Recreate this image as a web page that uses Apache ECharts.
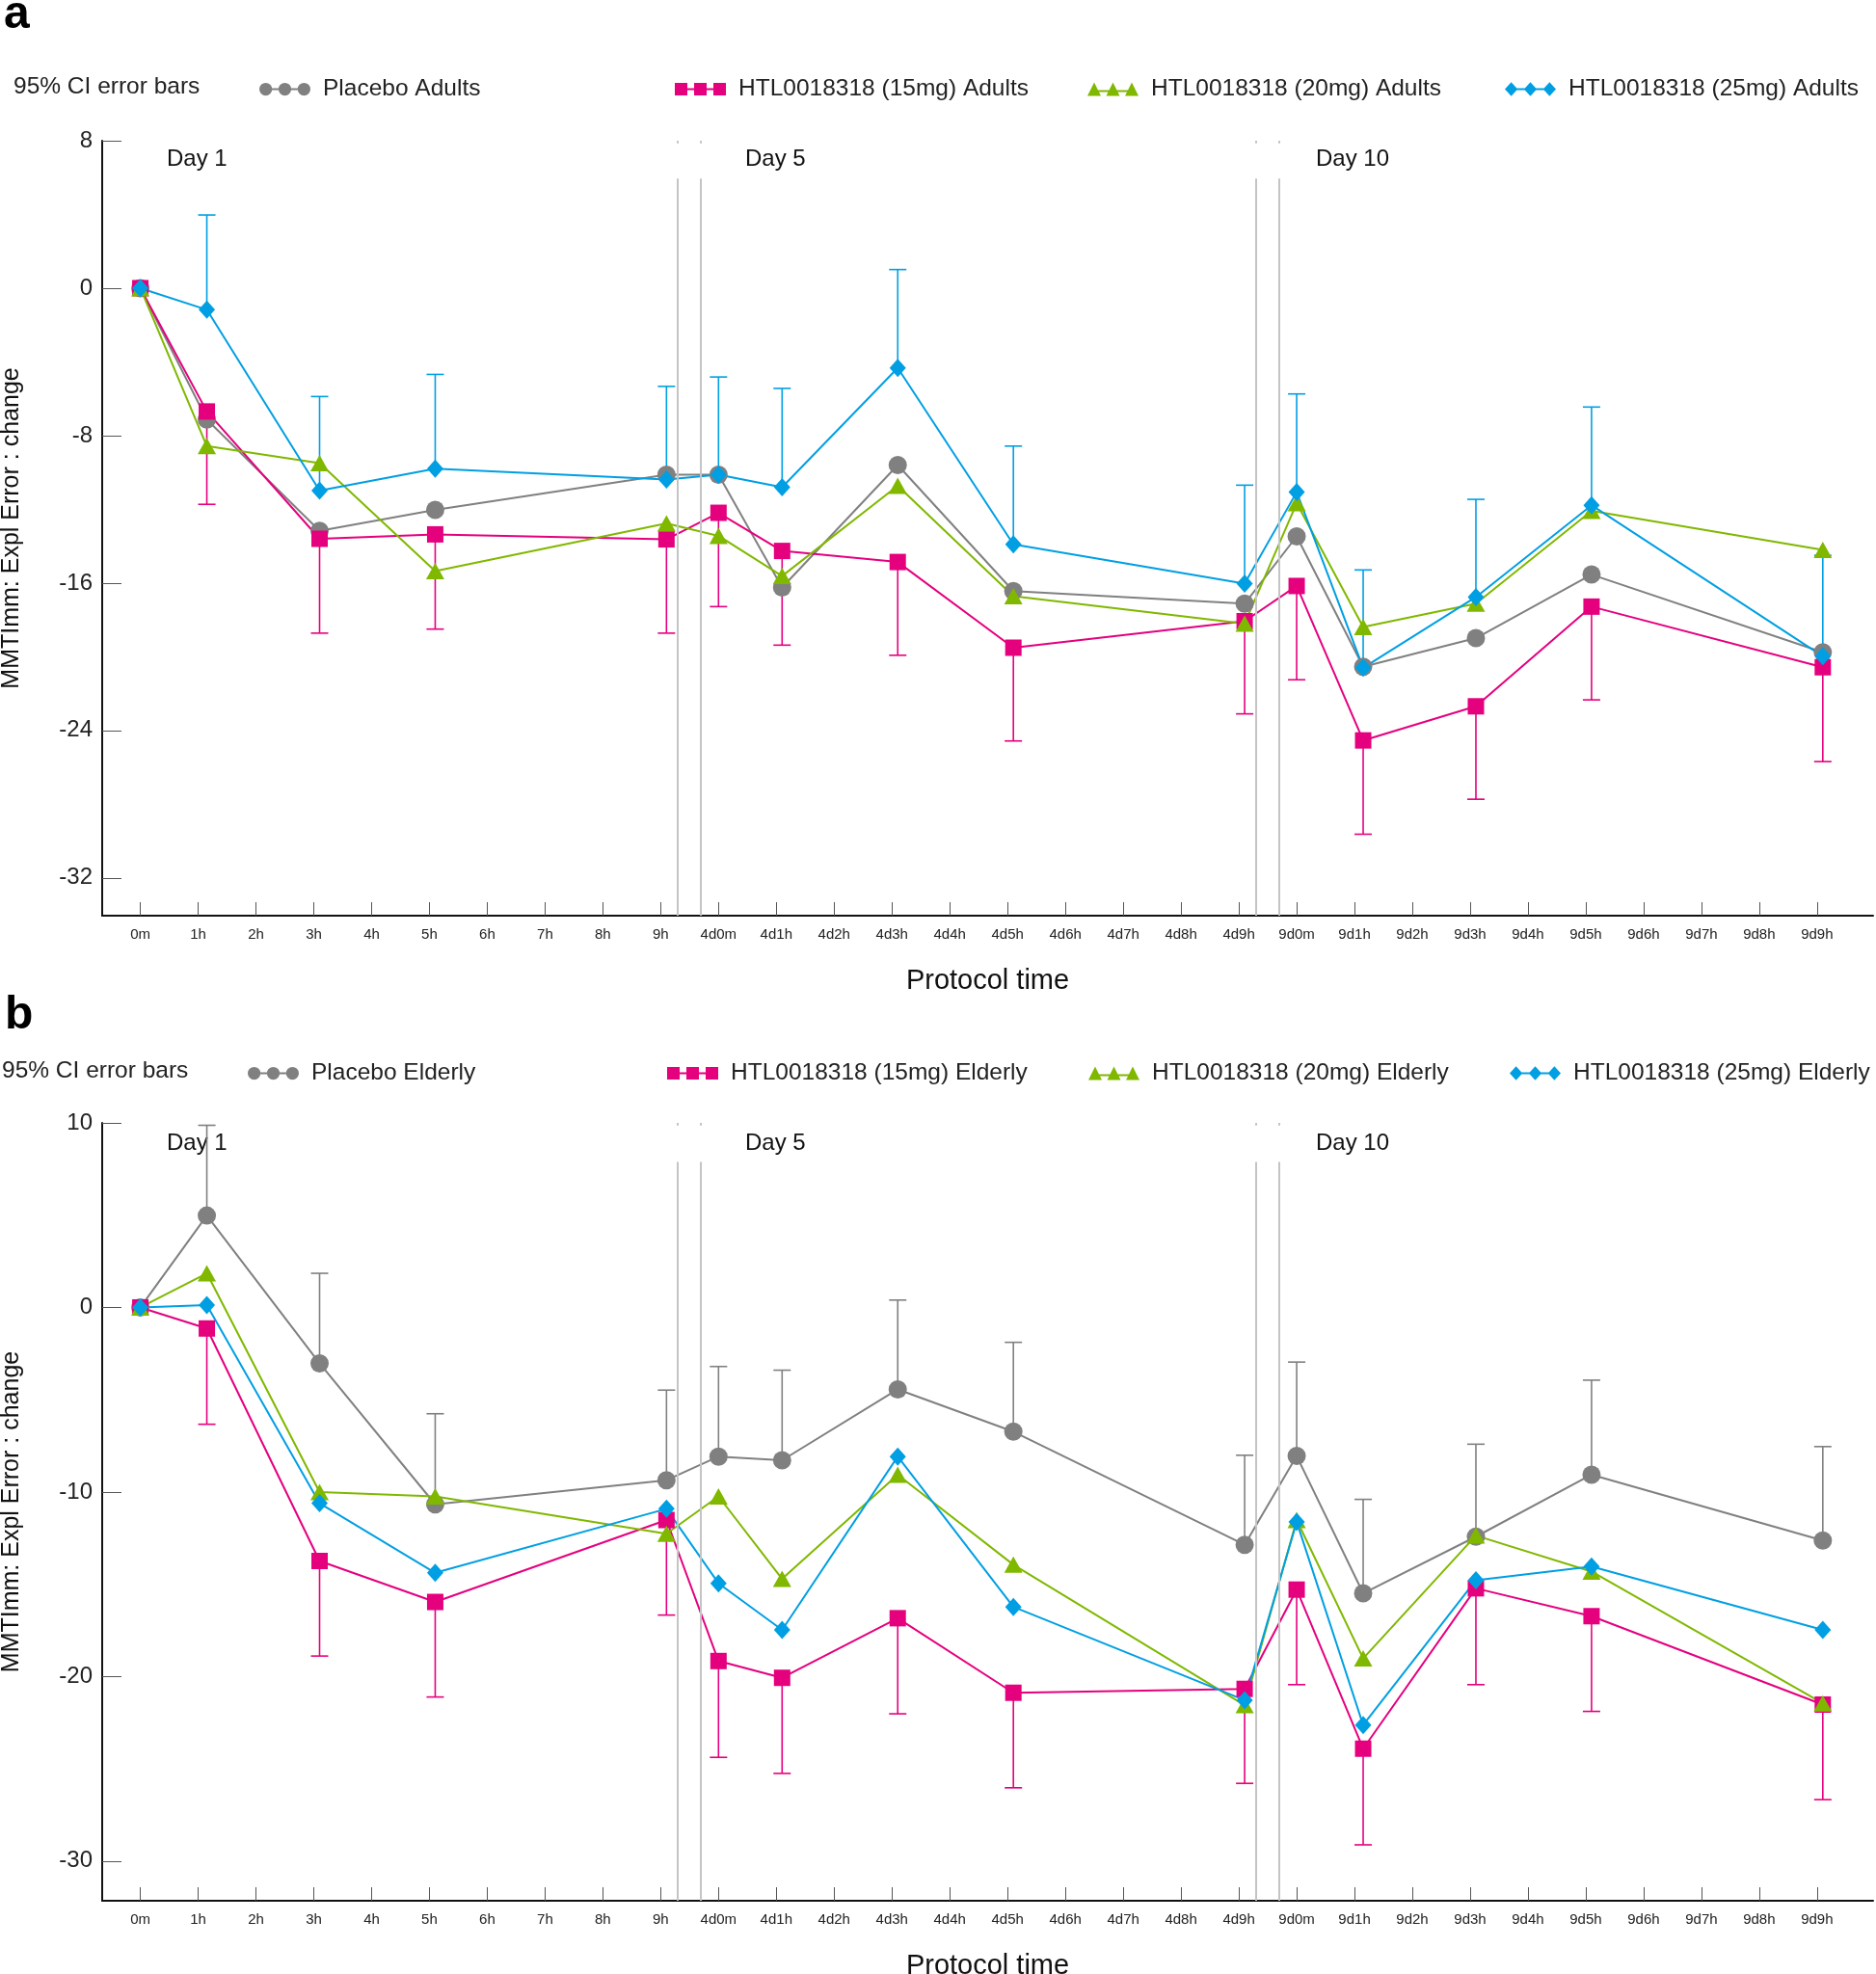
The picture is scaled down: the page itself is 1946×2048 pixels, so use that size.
<!DOCTYPE html>
<html><head><meta charset="utf-8">
<script src="https://cdn.jsdelivr.net/npm/echarts@6/dist/echarts.min.js"></script>
<style>html,body{margin:0;padding:0;background:#fff}#c{width:1946px;height:2048px}</style>
</head><body><div id="c"></div>
<script>
// ---------- data ----------
const tickLabels = ['0m','1h','2h','3h','4h','5h','6h','7h','8h','9h',
  '4d0m','4d1h','4d2h','4d3h','4d4h','4d5h','4d6h','4d7h','4d8h','4d9h',
  '9d0m','9d1h','9d2h','9d3h','9d4h','9d5h','9d6h','9d7h','9d8h','9d9h'];
const tickIndex = tickLabels.map((t, i) => i);
// measurement times on the protocol-time axis (slightly after the nominal hour)
const xTimes = [0, 1.15, 3.1, 5.1, 9.1, 10, 11.1, 13.1, 15.1, 19.1, 20, 21.15, 23.1, 25.1, 29.1];
const dayLabels = ['Day 1', 'Day 5', 'Day 10'];

const yTicksA = [8, 0, -8, -16, -24, -32];
const yTicksB = [10, 0, -10, -20, -30];

// Panel a: Adults
const placeboA   = [0, -7.13, -13.17, -12.03, -10.12, -10.12, -16.24, -9.6, -16.44, -17.12, -13.47, -20.54, -18.99, -15.54, -19.76];
const dose15A    = [0, -6.69, -13.6, -13.36, -13.63, -12.19, -14.26, -14.86, -19.51, -18.07, -16.16, -24.54, -22.69, -17.28, -20.57];
const dose15ALow = [null, -11.73, -18.72, -18.5, -18.72, -17.28, -19.37, -19.92, -24.57, -23.1, -21.25, -29.63, -27.73, -22.34, -25.69];
const dose20A    = [0, -8.57, -9.5, -15.35, -12.76, -13.44, -15.62, -10.72, -16.71, -18.2, -11.67, -18.39, -17.12, -12.08, -14.2];
const dose25A    = [0, -1.17, -10.99, -9.8, -10.39, -10.12, -10.8, -4.33, -13.9, -16.03, -11.07, -20.6, -16.76, -11.78, -19.97];
const dose25AHigh= [null, 3.97, -5.88, -4.68, -5.33, -4.82, -5.44, 1.01, -8.57, -10.69, -5.74, -15.29, -11.46, -6.45, -14.5];

// Panel b: Elderly
const placeboE    = [0, 4.98, -3.03, -10.67, -9.36, -8.08, -8.28, -4.44, -6.73, -12.86, -8.05, -15.49, -12.42, -9.06, -12.63];
const placeboEHigh= [null, 9.87, 1.85, -5.76, -4.48, -3.2, -3.4, 0.4, -1.89, -8.01, -2.96, -10.4, -7.41, -3.94, -7.54];
const dose15E     = [0, -1.14, -13.74, -15.96, -11.52, -19.16, -20.07, -16.84, -20.88, -20.67, -15.29, -23.91, -15.22, -16.73, -21.52];
const dose15ELow  = [null, -6.33, -18.89, -21.11, -16.67, -24.38, -25.25, -22.02, -26.03, -25.79, -20.44, -29.12, -20.44, -21.89, -26.67];
const dose20E     = [0, 1.85, -10, -10.24, -12.26, -10.24, -14.71, -9.06, -13.94, -21.55, -11.52, -19.02, -12.36, -14.31, -21.45];
const dose25E     = [0, 0.13, -10.61, -14.38, -10.91, -14.95, -17.47, -8.08, -16.23, -21.28, -11.62, -22.63, -14.78, -14.04, -17.47];

const namesA = ['Placebo Adults', 'HTL0018318 (15mg) Adults', 'HTL0018318 (20mg) Adults', 'HTL0018318 (25mg) Adults'];
const namesE = ['Placebo Elderly', 'HTL0018318 (15mg) Elderly', 'HTL0018318 (20mg) Elderly', 'HTL0018318 (25mg) Elderly'];

// ---------- styling ----------
const FONT = '"Liberation Sans", Arial, Helvetica, sans-serif';
const GRAY = '#808080', PINK = '#E5007E', GREEN = '#80B800', BLUE = '#009FE3';
const COLORS = [GRAY, PINK, GREEN, BLUE];
const SYMBOLS = ['circle', 'rect', 'triangle', 'diamond'];
const SYMSIZE = [19, 17, [19, 17], [17, 19]];
const SEP = '#c4c4c4';

const ICONS = [
  'path://M7,6.5H46V8.5H7Z M0.5,7.5A6.5,6.5 0 1 1 13.5,7.5A6.5,6.5 0 1 1 0.5,7.5Z M20,7.5A6.5,6.5 0 1 1 33,7.5A6.5,6.5 0 1 1 20,7.5Z M39.5,7.5A6.5,6.5 0 1 1 52.5,7.5A6.5,6.5 0 1 1 39.5,7.5Z',
  'path://M6.5,6.5H46.5V8.5H6.5Z M0,1H13V14H0Z M20,1H33V14H20Z M40,1H53V14H40Z',
  'path://M7,8.5H46V10.5H7Z M0,14.5L7,0.5L14,14.5Z M19.5,14.5L26.5,0.5L33.5,14.5Z M39,14.5L46,0.5L53,14.5Z',
  'path://M7,6.5H46V8.5H7Z M7,0.5L13.5,7.5L7,14.5L0.5,7.5Z M26.5,0.5L33,7.5L26.5,14.5L20,7.5Z M46,0.5L52.5,7.5L46,14.5L39.5,7.5Z'
];

const chart = echarts.init(document.getElementById('c'), null, {renderer: 'canvas'});

function xAxisDef(gi) {
  return {
    type: 'value', gridIndex: gi, min: -0.66, max: 29.97,
    name: 'Protocol time', nameLocation: 'middle', nameGap: 53,
    nameTextStyle: {fontSize: 29, color: '#111', fontFamily: FONT},
    axisLine: {onZero: false, lineStyle: {color: '#111', width: 2}},
    axisTick: {inside: true, length: 14, customValues: tickIndex, lineStyle: {color: '#555', width: 1}},
    axisLabel: {customValues: tickIndex, margin: 12, fontSize: 15, color: '#222', fontFamily: FONT,
      formatter: v => tickLabels[Math.round(v)] || ''},
    splitLine: {show: false}
  };
}
function yAxisDef(gi, mn, mx, ticks) {
  return {
    type: 'value', gridIndex: gi, min: mn, max: mx,
    name: 'MMTImm: Expl Error : change', nameLocation: 'middle', nameGap: 81,
    nameTextStyle: {fontSize: 25, color: '#111', fontFamily: FONT},
    axisLine: {onZero: false, lineStyle: {color: '#111', width: 2}},
    axisTick: {inside: true, length: 20, customValues: ticks, lineStyle: {color: '#555', width: 1}},
    axisLabel: {customValues: ticks, margin: 10, fontSize: 24, color: '#222', fontFamily: FONT},
    splitLine: {show: false}
  };
}

function errRender(params, api) {
  const x = api.value(0), y = api.value(1), b = api.value(2);
  const p1 = api.coord([x, y]), p2 = api.coord([x, b]);
  const hw = 9;
  const style = {stroke: api.visual('color'), lineWidth: 1.6, fill: null};
  return {type: 'group', children: [
    {type: 'line', shape: {x1: p1[0], y1: p1[1], x2: p2[0], y2: p2[1]}, style: style},
    {type: 'line', shape: {x1: p2[0] - hw, y1: p2[1], x2: p2[0] + hw, y2: p2[1]}, style: style}
  ]};
}

function lineSeries(name, vals, k, gi, extra) {
  return Object.assign({
    type: 'line', name: name, xAxisIndex: gi, yAxisIndex: gi, z: 3,
    data: xTimes.map((x, i) => [x, vals[i]]),
    symbol: SYMBOLS[k], symbolSize: SYMSIZE[k], showSymbol: true,
    itemStyle: {color: COLORS[k], borderWidth: 0},
    lineStyle: {color: COLORS[k], width: 2},
    emphasis: {disabled: true}, animation: false
  }, extra || {});
}
function errSeries(name, vals, bounds, k, gi) {
  return {
    type: 'custom', name: name, xAxisIndex: gi, yAxisIndex: gi, z: 2,
    itemStyle: {color: COLORS[k]},
    data: xTimes.map((x, i) => [x, vals[i], bounds[i]]).filter(d => d[2] !== null),
    renderItem: errRender, silent: true, animation: false
  };
}
function sepMarkLine(yTop, yBottom, yMax) {
  const xs = [9.29, 9.69, 19.29, 19.69];
  const data = [];
  xs.forEach(x => {
    data.push([{coord: [x, yTop]}, {coord: [x, yBottom]}]);
    data.push([{coord: [x, yMax]}, {coord: [x, yMax - 0.15]}]);
  });
  return {silent: true, symbol: 'none', label: {show: false}, animation: false,
    lineStyle: {color: SEP, width: 2, type: 'solid'}, emphasis: {disabled: true}, data: data};
}

function legendItem(name, left, top, k) {
  return {data: [name], left: left, top: top, padding: 0, itemWidth: 53, itemHeight: 15,
    icon: ICONS[k], selectedMode: false, itemStyle: {borderWidth: 0},
    textStyle: {fontSize: 24.5, color: '#222', fontFamily: FONT, padding: [0, 0, 0, 8]}};
}

const yMinA = -34.05, yMaxA = 8, yMinB = -32.15, yMaxB = 10;

const option = {
  backgroundColor: '#fff',
  animation: false,
  grid: [
    {left: 106, top: 146, width: 1837, height: 804, containLabel: false, outerBoundsMode: 'none'},
    {left: 106, top: 1165, width: 1837, height: 807, containLabel: false, outerBoundsMode: 'none'}
  ],
  xAxis: [xAxisDef(0), xAxisDef(1)],
  yAxis: [yAxisDef(0, yMinA, yMaxA, yTicksA), yAxisDef(1, yMinB, yMaxB, yTicksB)],
  legend: [
    legendItem(namesA[0], 269, 80, 0), legendItem(namesA[1], 700, 80, 1),
    legendItem(namesA[2], 1128, 80, 2), legendItem(namesA[3], 1561, 80, 3),
    legendItem(namesE[0], 257, 1101, 0), legendItem(namesE[1], 692, 1101, 1),
    legendItem(namesE[2], 1129, 1101, 2), legendItem(namesE[3], 1566, 1101, 3)
  ],
  graphic: [
    {type: 'text', x: 4, y: 16, style: {text: 'a', font: 'bold 48px ' + FONT, fill: '#000', verticalAlign: 'middle'}},
    {type: 'text', x: 5, y: 1054, style: {text: 'b', font: 'bold 48px ' + FONT, fill: '#000', verticalAlign: 'middle'}},
    {type: 'text', x: 14, y: 90, style: {text: '95% CI error bars', font: '24.5px ' + FONT, fill: '#222', verticalAlign: 'middle'}},
    {type: 'text', x: 2, y: 1111, style: {text: '95% CI error bars', font: '24.5px ' + FONT, fill: '#222', verticalAlign: 'middle'}},
    {type: 'text', x: 173, y: 165, style: {text: dayLabels[0], font: '24px ' + FONT, fill: '#111', verticalAlign: 'middle'}},
    {type: 'text', x: 773, y: 165, style: {text: dayLabels[1], font: '24px ' + FONT, fill: '#111', verticalAlign: 'middle'}},
    {type: 'text', x: 1365, y: 165, style: {text: dayLabels[2], font: '24px ' + FONT, fill: '#111', verticalAlign: 'middle'}},
    {type: 'text', x: 173, y: 1186, style: {text: dayLabels[0], font: '24px ' + FONT, fill: '#111', verticalAlign: 'middle'}},
    {type: 'text', x: 773, y: 1186, style: {text: dayLabels[1], font: '24px ' + FONT, fill: '#111', verticalAlign: 'middle'}},
    {type: 'text', x: 1365, y: 1186, style: {text: dayLabels[2], font: '24px ' + FONT, fill: '#111', verticalAlign: 'middle'}}
  ],
  series: [
    errSeries('err15A', dose15A, dose15ALow, 1, 0),
    errSeries('err25A', dose25A, dose25AHigh, 3, 0),
    lineSeries(namesA[0], placeboA, 0, 0, {markLine: sepMarkLine(5.95, yMinA, yMaxA)}),
    lineSeries(namesA[1], dose15A, 1, 0),
    lineSeries(namesA[2], dose20A, 2, 0),
    lineSeries(namesA[3], dose25A, 3, 0),
    errSeries('errPE', placeboE, placeboEHigh, 0, 1),
    errSeries('err15E', dose15E, dose15ELow, 1, 1),
    lineSeries(namesE[0], placeboE, 0, 1, {markLine: sepMarkLine(7.88, yMinB, yMaxB)}),
    lineSeries(namesE[1], dose15E, 1, 1),
    lineSeries(namesE[2], dose20E, 2, 1),
    lineSeries(namesE[3], dose25E, 3, 1)
  ]
};
chart.setOption(option);
</script>
</body></html>
